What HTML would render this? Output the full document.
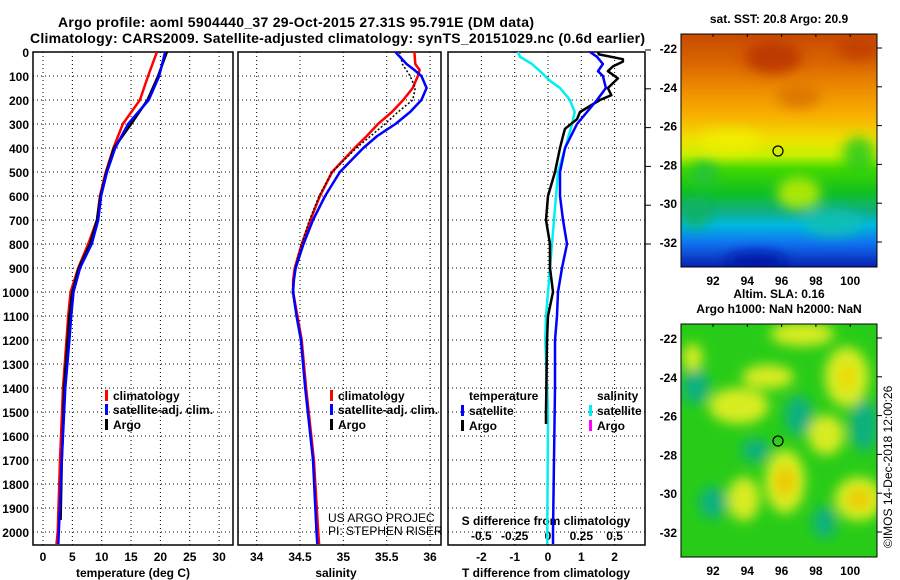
<!DOCTYPE html>
<html><head><meta charset="utf-8">
<style>
html,body{margin:0;padding:0;background:#fff;}
svg{display:block;font-family:"Liberation Sans",sans-serif;}
.b{font-weight:bold;font-size:12px;}
.n{font-weight:normal;font-size:12px;}
</style></head>
<body>
<svg id="fig" width="900" height="580" viewBox="0 0 900 580">
<defs>
<linearGradient id="sstg" x1="0" y1="0" x2="0" y2="1">
<stop offset="0" stop-color="#c84a00"/><stop offset="0.12" stop-color="#d86400"/>
<stop offset="0.25" stop-color="#f09000"/><stop offset="0.36" stop-color="#f8b400"/>
<stop offset="0.45" stop-color="#f0e000"/><stop offset="0.52" stop-color="#c8f000"/>
<stop offset="0.58" stop-color="#40d800"/><stop offset="0.68" stop-color="#10c020"/>
<stop offset="0.76" stop-color="#10b080"/><stop offset="0.82" stop-color="#00b8e0"/>
<stop offset="0.9" stop-color="#1070f0"/><stop offset="1" stop-color="#0820b0"/>
</linearGradient>
<filter id="blur" x="-20%" y="-20%" width="140%" height="140%"><feGaussianBlur stdDeviation="6"/></filter>
<clipPath id="c1"><rect x="681" y="34" width="196" height="233"/></clipPath>
<clipPath id="c2"><rect x="681" y="324" width="196" height="233"/></clipPath>
</defs>
<text class="b" x="58" y="27" textLength="476" style="font-size:14px">Argo profile: aoml 5904440_37 29-Oct-2015 27.31S 95.791E (DM data)</text>
<text class="b" x="30" y="43" textLength="615" style="font-size:14px">Climatology: CARS2009. Satellite-adjusted climatology: synTS_20151029.nc (0.6d earlier)</text>
<g id="plots"></g>
<g id="maps"></g>
</svg>
<script>
// ---- data ----
const depthT = [0,100,200,300,400,500,600,700,800,900,1000,1100,1200,1400,1700,2000,2050];
const tempClim = [19.4,17.9,16.5,13.6,12.0,10.7,9.7,9.2,7.7,6.0,4.7,4.3,4.0,3.4,2.9,2.5,2.3];
const tempSat  = [20.8,19.8,18.0,14.5,12.3,10.9,9.9,9.4,8.3,6.3,5.2,4.8,4.5,3.8,3.2,2.7,2.6];
const depthArgo = [0,100,200,300,400,500,600,700,800,900,1000,1100,1200,1400,1500,1700,1950];
const tempArgo = [21.1,19.6,17.8,15.0,12.1,10.8,9.8,9.2,8.0,6.1,5.0,4.5,4.2,3.6,3.5,3.2,3.0];
const depthS = [0,50,75,100,150,200,250,300,350,400,500,600,700,800,900,950,1000,1100,1200,1400,1700,2000,2050];
const salClim = [35.82,35.83,35.88,35.86,35.80,35.69,35.56,35.40,35.27,35.13,34.87,34.73,34.62,34.52,34.44,34.42,34.42,34.47,34.52,34.57,34.66,34.71,34.72];
const salSat  = [35.60,35.73,35.82,35.90,35.96,35.90,35.77,35.60,35.39,35.23,34.96,34.79,34.65,34.54,34.45,34.43,34.42,34.46,34.51,34.56,34.65,34.69,34.70];
const depthSA = [0,50,100,150,200,250,300,400,500,600,700,800,900,1000,1100,1200,1400,1700,1950];
const salArgo = [35.65,35.68,35.77,35.83,35.80,35.63,35.48,35.15,34.87,34.72,34.61,34.52,34.44,34.41,34.46,34.51,34.56,34.65,34.69];
const depthDA = [0,10,30,40,60,80,110,150,180,200,250,280,320,350,400,500,600,700,800,900,1000,1100,1200,1500,1550];
const dTArgo = [1.5,1.53,2.25,2.25,1.95,1.8,2.1,1.8,1.9,1.56,0.96,0.87,0.51,0.45,0.36,0.21,0.0,-0.06,0.06,0.06,0.15,0.0,-0.03,-0.06,-0.06];
const depthDS = [0,20,50,80,100,150,200,250,300,400,500,600,700,800,900,1000,1100,1200,1400,2000,2050];
const dTSat = [1.26,1.47,1.65,1.5,1.65,1.74,1.47,1.17,0.87,0.51,0.36,0.36,0.45,0.57,0.42,0.30,0.27,0.21,0.21,0.15,0.15];
const depthDC = [0,20,50,80,120,150,200,250,300,400,500,700,900,1100,1200,1500,2000,2050];
const dSSat = [-0.225,-0.21,-0.12,-0.06,0.015,0.09,0.165,0.2,0.18,0.13,0.075,0.045,0.015,-0.015,-0.02,0.0,-0.005,-0.005];
const depthTicks = [0,100,200,300,400,500,600,700,800,900,1000,1100,1200,1300,1400,1500,1600,1700,1800,1900,2000];
const tTicks = [0,5,10,15,20,25,30];
const sTicks = [34,34.5,35,35.5,36];
const sTickLabels = ['34','34.5','35','35.5','36'];
const dTTicks = [-2,-1,0,1,2];
const dSTicks = [-0.5,-0.25,0,0.25,0.5];
const dSTickLabels = ['-0.5','-0.25','0','0.25','0.5'];
const lonTicks = [92,94,96,98,100];
const latTicks = [-22,-24,-26,-28,-30,-32];

// ---- axes ----
const NS='http://www.w3.org/2000/svg';
const top0=52, bot=545;
const yD = d => top0 + 0.24*d;
const xT = t => 43 + 5.87*t;
const xS = s => 300 + 86.7*(s-34.5);
const xDT = t => 548 + 33.3*t;
const xDS = s => 548 + 133.3*s;
const xLon = l => 713 + (l-92)*17.15;
const yLat1 = l => 48 + (-22-l)*19.4;
const yLat2 = l => 338 + (-22-l)*19.4;
const plots=document.getElementById('plots');
const maps=document.getElementById('maps');
function mk(tag, attrs, parent){const e=document.createElementNS(NS,tag);for(const k in attrs)e.setAttribute(k,attrs[k]);(parent||plots).appendChild(e);return e;}
function txt(s,x,y,anchor,parent,cls){const e=mk('text',{x:x,y:y,'text-anchor':anchor||'start','class':cls||'b'},parent);e.textContent=s;return e;}
function line(xs,ds,fx,color,w,name,dash){
  const pts=xs.map((v,i)=>fx(v).toFixed(1)+','+yD(ds[i]).toFixed(1)).join(' ');
  const p=mk('polyline',{points:pts,fill:'none',stroke:color,'stroke-width':w,'stroke-linejoin':'round'});
  if(dash)p.setAttribute('stroke-dasharray',dash);
  
  
  return p;
}
const panels=[{x0:33,x1:233,name:'temperature'},{x0:238,x1:441,name:'salinity'},{x0:448,x1:645,name:'difference'}];
panels.forEach((P,pi)=>{
  const g=mk('g',{});
  
  
  depthTicks.forEach(d=>{ if(d>0) mk('line',{x1:P.x0,x2:P.x1,y1:yD(d),y2:yD(d),stroke:'#000','stroke-width':1,'stroke-dasharray':'1,3'},g);});
  let gx = pi===0? tTicks.map(xT) : pi===1? sTicks.map(xS) : dTTicks.map(xDT);
  gx.forEach(x=>mk('line',{x1:x,x2:x,y1:top0,y2:bot,stroke:'#000','stroke-width':1,'stroke-dasharray':'1,3'},g));
  const r=mk('rect',{x:P.x0,y:top0,width:P.x1-P.x0,height:bot-top0,fill:'none',stroke:'#000','stroke-width':1.5},g);
  
  
});
depthTicks.forEach(d=>{const t=txt(String(d),29,yD(d)+5,'end');
  
  });
tTicks.forEach(v=>{const t=txt(String(v),xT(v),561,'middle');
  
  });
sTicks.forEach((v,i)=>{const t=txt(sTickLabels[i],xS(v),561,'middle');
  
  });
dTTicks.forEach(v=>{const t=txt(String(v),xDT(v),561,'middle');
  
  });
dSTicks.forEach((v,i)=>{const t=txt(dSTickLabels[i],xDS(v),540,'middle');
  
  });
let a;
a=txt('temperature (deg C)',133,577,'middle');
a=txt('salinity',336,577,'middle');
a=txt('T difference from climatology',546,577,'middle');
a=txt('S difference from climatology',546,525,'middle');

// series
line(tempClim,depthT,xT,'#ff0000',2.5,'temp-climatology-line');
line(tempArgo,depthArgo,xT,'#000',2.5,'temp-argo-line');
line(tempSat,depthT,xT,'#0000ff',2.5,'temp-satellite-line');
line(salClim,depthS,xS,'#ff0000',2.5,'sal-climatology-line');
line(salArgo,depthSA,xS,'#000',1.5,'sal-argo-line','2,2');
line(salSat,depthS,xS,'#0000ff',2.5,'sal-satellite-line');
line(dSSat,depthDC,xDS,'#00f0f0',2.5,'sdiff-satellite-line');
line(dTArgo,depthDA,xDT,'#000',2.5,'tdiff-argo-line');
line(dTSat,depthDS,xDT,'#0000ff',2.5,'tdiff-satellite-line');

// legends
function leg(x,y,color,label,name){
  const g=mk('g',{});
  
  
  mk('rect',{x:x,y:y-9,width:3,height:11,fill:color},g);
  txt(label,x+8,y+1,'start',g);
}
leg(105,399,'#ff0000','climatology','legend-entry-climatology');
leg(105,413,'#0000ff','satellite-adj. clim.','legend-entry-satellite');
leg(105,428,'#000','Argo','legend-entry-argo');
leg(330,399,'#ff0000','climatology','legend-entry-sal-climatology');
leg(330,413,'#0000ff','satellite-adj. clim.','legend-entry-sal-satellite');
leg(330,428,'#000','Argo','legend-entry-sal-argo');
a=txt('temperature',469,400,'start');
a=txt('salinity',597,400,'start');
leg(461,414,'#0000ff','satellite','legend-entry-tdiff-satellite');
leg(461,429,'#000','Argo','legend-entry-tdiff-argo');
leg(589,414,'#00f0f0','satellite','legend-entry-sdiff-satellite');
leg(589,429,'#ff00ff','Argo','legend-entry-sdiff-argo');
a=txt('US ARGO PROJEC',328,522,'start',plots,'n');
a=txt('PI: STEPHEN RISER',328,535,'start',plots,'n');

// ---- maps ----
const sstBlobs=[[95.5,-22.5,'#b83000',28,16],[100.5,-22,'#c03c00',22,12],[97,-24.5,'#d87000',22,12],[93,-26.8,'#f0f000',30,12],[97,-29.5,'#d0f000',22,16],[100.5,-27.5,'#20c820',16,18],[91.5,-28.5,'#20c040',14,14],[91,-30.5,'#10b060',16,16],[99,-31,'#10c0b0',30,14],[94.5,-33,'#0010a0',30,10]];
const slaYellow=[[93.5,-25.5,30,18],[95.2,-24,26,12],[96.2,-29.4,20,32],[93.8,-30.3,16,22],[100.5,-30.3,24,22],[99.8,-24,22,30],[97.2,-21.8,32,12],[98.6,-27,18,20],[90.8,-23,10,14]];
const slaTeal=[[91,-24.5,14,18],[97,-26,14,20],[100.8,-26.5,14,26],[92,-30.5,14,16],[98.5,-31.5,12,16],[94.5,-27.8,14,12]];
function mapFrame(y0,yLat,titleLines,name){
  const g=mk('g',{},maps);
  
  
  const c=mk('g',{'clip-path':'url(#'+(y0<100?'c1':'c2')+')'},g);
  if(y0<100){
    mk('rect',{x:681,y:34,width:196,height:233,fill:'url(#sstg)'},c);
    const bl=mk('g',{filter:'url(#blur)'},c);
    sstBlobs.forEach(b=>mk('ellipse',{cx:xLon(b[0]),cy:yLat(b[1]),rx:b[3],ry:b[4],fill:b[2],opacity:0.8},bl));
  } else {
    mk('rect',{x:681,y:324,width:196,height:233,fill:'#28cc18'},c);
    const bl=mk('g',{filter:'url(#blur)'},c);
    slaTeal.forEach(b=>mk('ellipse',{cx:xLon(b[0]),cy:yLat(b[1]),rx:b[2],ry:b[3],fill:'#10b080'},bl));
    slaYellow.forEach(b=>mk('ellipse',{cx:xLon(b[0]),cy:yLat(b[1]),rx:b[2],ry:b[3],fill:'#d8ec20'},bl));
    mk('ellipse',{cx:xLon(96.2),cy:yLat(-29.4),rx:10,ry:14,fill:'#f0c800',filter:'url(#blur)'},c);
    mk('ellipse',{cx:xLon(100.5),cy:yLat(-30.3),rx:11,ry:10,fill:'#f0c800',filter:'url(#blur)'},c);
    mk('ellipse',{cx:xLon(99.8),cy:yLat(-24),rx:8,ry:12,fill:'#f0d800',filter:'url(#blur)'},c);
  }
  const ring=mk('circle',{cx:xLon(95.79),cy:yLat(-27.31),r:5,fill:'none',stroke:'#000','stroke-width':1.2},g);
  
  
  mk('rect',{x:681,y:y0,width:196,height:233,fill:'none',stroke:'#000','stroke-width':1},g);
  lonTicks.forEach(l=>{mk('line',{x1:xLon(l),x2:xLon(l),y1:y0,y2:y0+3,stroke:'#000'},g);
    const t=txt(String(l),xLon(l),y0+251,'middle',g);
    
    });
  latTicks.forEach(l=>{mk('line',{x1:877,x2:882,y1:yLat(l),y2:yLat(l),stroke:'#000'},g);
    const t=txt(String(l),677,yLat(l)+5,'end',g);
    
    });
  titleLines.forEach((s,i)=>{const t=txt(s,779,y0-(titleLines.length-1-i)*15-11,'middle',g);
    
    });
}
mapFrame(34,yLat1,['sat. SST: 20.8 Argo: 20.9'],'sst-map');
mapFrame(324,yLat2,['Altim. SLA: 0.16','Argo h1000: NaN h2000: NaN'],'sla-map');
latTicks.forEach(l=>mk('line',{x1:645,x2:651,y1:yLat1(l)+2,y2:yLat1(l)+2,stroke:'#000'}));
a=mk('text',{x:0,y:0,transform:'translate(892,548) rotate(-90)','font-size':'12'},maps);
a.textContent='©IMOS 14-Dec-2018 12:00:26';


</script>
</body></html>
